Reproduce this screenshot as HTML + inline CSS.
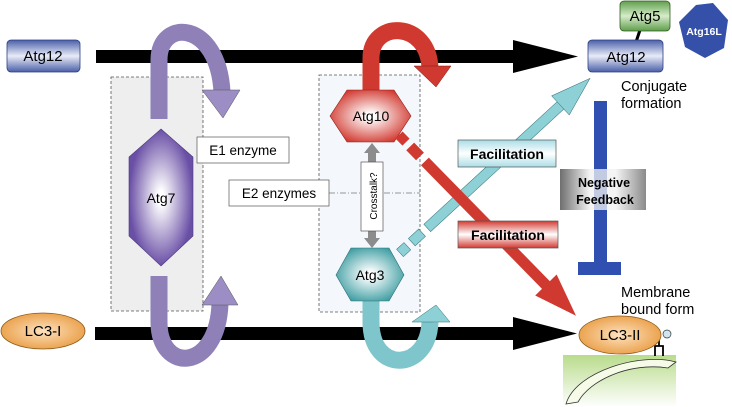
<!DOCTYPE html>
<html><head><meta charset="utf-8"><style>
html,body{margin:0;padding:0;background:#fff;}
svg{display:block;font-family:"Liberation Sans",Arial,sans-serif;}
</style></head><body>
<svg width="732" height="407" viewBox="0 0 732 407" xmlns="http://www.w3.org/2000/svg">
<defs>
<linearGradient id="bl" x1="0" y1="0" x2="0" y2="1"><stop offset="0" stop-color="#4a5fa8"/><stop offset="0.5" stop-color="#e8ecf8"/><stop offset="1" stop-color="#4a5fa8"/></linearGradient>
<linearGradient id="gr" x1="0" y1="0" x2="0" y2="1"><stop offset="0" stop-color="#5f9e4c"/><stop offset="0.5" stop-color="#d6ecc9"/><stop offset="1" stop-color="#5f9e4c"/></linearGradient>
<radialGradient id="or" cx="0.5" cy="0.5" r="0.6"><stop offset="0" stop-color="#fde2c0"/><stop offset="1" stop-color="#e8973a"/></radialGradient>
<radialGradient id="pu" cx="0.5" cy="0.5" r="0.5"><stop offset="0.1" stop-color="#ffffff"/><stop offset="1" stop-color="#6a4fa6"/></radialGradient>
<radialGradient id="rd" cx="0.5" cy="0.5" r="0.55"><stop offset="0.1" stop-color="#ffffff"/><stop offset="1" stop-color="#d23b32"/></radialGradient>
<radialGradient id="tl" cx="0.5" cy="0.5" r="0.55"><stop offset="0.1" stop-color="#ffffff"/><stop offset="1" stop-color="#3f9ea3"/></radialGradient>
<linearGradient id="fbt" x1="0" y1="0" x2="0" y2="1"><stop offset="0" stop-color="#a9dde6"/><stop offset="0.5" stop-color="#ffffff"/><stop offset="1" stop-color="#a9dde6"/></linearGradient>
<linearGradient id="fbr" x1="0" y1="0" x2="0" y2="1"><stop offset="0" stop-color="#d23b32"/><stop offset="0.5" stop-color="#ffffff"/><stop offset="1" stop-color="#d23b32"/></linearGradient>
<linearGradient id="nf" x1="0" y1="0" x2="1" y2="0"><stop offset="0" stop-color="#6e6e6e"/><stop offset="0.35" stop-color="#f4f4f4"/><stop offset="0.65" stop-color="#f4f4f4"/><stop offset="1" stop-color="#8a8a8a"/></linearGradient>
<linearGradient id="mem" x1="0" y1="0" x2="0" y2="1"><stop offset="0" stop-color="#b9dc8c"/><stop offset="1" stop-color="#ffffff"/></linearGradient>
</defs>

<rect x="111" y="77" width="92" height="234" fill="#eeeeee" stroke="#555" stroke-dasharray="3,2" stroke-width="0.8"/>
<rect x="319" y="75" width="101" height="237" fill="#f4f8fc" stroke="#555" stroke-dasharray="3,2" stroke-width="0.8"/>
<line x1="329" y1="193" x2="420" y2="193" stroke="#777" stroke-dasharray="6,2,1,2" stroke-width="0.8"/>

<rect x="96" y="50" width="420" height="13" fill="#000"/>
<polygon points="513,40 578,56.5 513,73" fill="#000"/>
<rect x="95" y="327" width="420" height="13" fill="#000"/>
<polygon points="513,317 577,333.5 513,350" fill="#000"/>

<path d="M159,119 L159,60 C159,18 218,20 222,92" fill="none" stroke="#8f80b8" stroke-width="17"/>
<polygon points="202,90 240,90 223,118" fill="#9c8ec4" stroke="#555" stroke-width="0.5"/>
<path d="M159,276 L159,322 C159,374 218,372 220,303" fill="none" stroke="#8f80b8" stroke-width="17"/>
<polygon points="202,305 238,305 221,276" fill="#9c8ec4" stroke="#555" stroke-width="0.5"/>

<path d="M371,92 L371,58 C371,20 428,20 430,68" fill="none" stroke="#d0392f" stroke-width="17"/>
<polygon points="414,66 451,66 436,87" fill="#d0392f" stroke="#7a1a14" stroke-width="0.5"/>
<path d="M371,300 L371,322 C371,374 428,372 430,322" fill="none" stroke="#7fc5cc" stroke-width="17"/>
<polygon points="412,322 450,322 436,305" fill="#8dd0d6" stroke="#2f6f75" stroke-width="0.5"/>

<polygon points="161,129 193,157 193,236 161,266 129,236 129,157" fill="url(#pu)" stroke="#4a3a80" stroke-width="0.6"/>
<text x="161" y="203" font-size="14" text-anchor="middle">Atg7</text>
<polygon points="330,116 347,90 394,90 411,116 394,142 347,142" fill="url(#rd)" stroke="#8a1f18" stroke-width="0.6"/>
<text x="371" y="121" font-size="14" text-anchor="middle">Atg10</text>
<polygon points="336,275 351,248 389,248 404,275 389,301 351,301" fill="url(#tl)" stroke="#2f6f75" stroke-width="0.6"/>
<text x="370" y="280" font-size="14" text-anchor="middle">Atg3</text>

<polygon points="372,143 364,153 368,153 368,162 376,162 376,153 380,153" fill="#8c8c8c"/>
<polygon points="372,248 364,238 368,238 368,231 376,231 376,238 380,238" fill="#8c8c8c"/>
<rect x="361" y="162" width="22" height="69" fill="#fff" stroke="#555" stroke-width="0.7"/>
<text transform="translate(377,196) rotate(-90)" font-size="10" text-anchor="middle">Crosstalk?</text>

<rect x="197" y="137" width="92" height="26" fill="#fff" stroke="#555" stroke-width="0.7"/>
<text x="243" y="155" font-size="13.5" text-anchor="middle">E1 enzyme</text>
<rect x="229" y="180" width="100" height="26" fill="#fff" stroke="#555" stroke-width="0.7"/>
<text x="279" y="198" font-size="13.5" text-anchor="middle">E2 enzymes</text>

<g transform="translate(400,253) rotate(-42.6)">
<rect x="0" y="-5" width="10" height="10" fill="#8dd0d6" stroke="#2f6f75" stroke-width="0.5"/>
<rect x="16" y="-5" width="14" height="10" fill="#8dd0d6" stroke="#2f6f75" stroke-width="0.5"/>
<rect x="37" y="-5" width="185" height="10" fill="#8dd0d6" stroke="#2f6f75" stroke-width="0.5"/>
<polygon points="218,-13 258,0 218,13" fill="#8dd0d6" stroke="#2f6f75" stroke-width="0.5"/>
</g>
<g transform="translate(399,135) rotate(45.6)">
<rect x="0" y="-5" width="10" height="10" fill="#d0392f"/>
<rect x="16" y="-5.5" width="14" height="11" fill="#d0392f"/>
<rect x="37" y="-5.5" width="176" height="11" fill="#d0392f"/>
<polygon points="210,-15 253,0 210,15" fill="#d0392f"/>
</g>

<rect x="458" y="140" width="98" height="27" fill="url(#fbt)" stroke="#555" stroke-width="0.7"/>
<text x="507" y="159" font-size="14" font-weight="bold" text-anchor="middle">Facilitation</text>
<rect x="458" y="221" width="100" height="27" fill="url(#fbr)" stroke="#555" stroke-width="0.7"/>
<text x="508" y="240" font-size="14" font-weight="bold" text-anchor="middle">Facilitation</text>

<rect x="594" y="101" width="13" height="165" fill="#2f50b0"/>
<rect x="578" y="262" width="43" height="13" fill="#2f50b0"/>
<rect x="560" y="169" width="86" height="41" fill="url(#nf)"/>
<rect x="594" y="169" width="13" height="41" fill="#2f50b0" opacity="0.25"/>
<text x="604" y="187" font-size="12.5" font-weight="bold" text-anchor="middle">Negative</text>
<text x="605" y="204" font-size="12.5" font-weight="bold" text-anchor="middle">Feedback</text>

<rect x="7" y="40" width="73" height="32" rx="4" fill="url(#bl)" stroke="#2e3f80" stroke-width="0.8"/>
<text x="43" y="61" font-size="15" text-anchor="middle">Atg12</text>
<ellipse cx="43" cy="331" rx="42" ry="18" fill="url(#or)" stroke="#8a5a1a" stroke-width="0.8"/>
<text x="43" y="336" font-size="15" text-anchor="middle">LC3-I</text>

<line x1="640" y1="30" x2="636" y2="42" stroke="#000" stroke-width="3"/>
<rect x="620" y="1" width="50" height="30" rx="4" fill="url(#gr)" stroke="#2f5e22" stroke-width="0.8"/>
<text x="645" y="21" font-size="15" text-anchor="middle">Atg5</text>
<rect x="588" y="40" width="75" height="32" rx="4" fill="url(#bl)" stroke="#2e3f80" stroke-width="0.8"/>
<text x="626" y="62" font-size="15" text-anchor="middle">Atg12</text>
<polygon points="713,3 728,20 724,48 705,58 685,47 679,22 696,5" fill="#3450a8"/>
<text x="704" y="35" font-size="10.5" font-weight="bold" fill="#fff" text-anchor="middle">Atg16L</text>
<text x="621" y="91" font-size="14.5">Conjugate</text>
<text x="621" y="108" font-size="14.5">formation</text>
<text x="621" y="297" font-size="14.5">Membrane</text>
<text x="621" y="314" font-size="14.5">bound form</text>

<rect x="563" y="355" width="113" height="52" fill="url(#mem)"/>
<path d="M566,404 C575,372 640,352 676,362 L668,368 C630,362 590,380 578,402 Z" fill="#f6fbe8" stroke="#333" stroke-width="0.8"/>
<path d="M659,340 L659,346 M655,356 L655,346 L663,346 L663,356" fill="none" stroke="#000" stroke-width="1.8"/>
<circle cx="667" cy="334" r="4" fill="#cfe6f0" stroke="#333" stroke-width="0.7"/>
<ellipse cx="620" cy="335" rx="41" ry="19" fill="url(#or)" stroke="#8a5a1a" stroke-width="0.8"/>
<text x="620" y="340" font-size="15" text-anchor="middle">LC3-II</text>
</svg>
</body></html>
